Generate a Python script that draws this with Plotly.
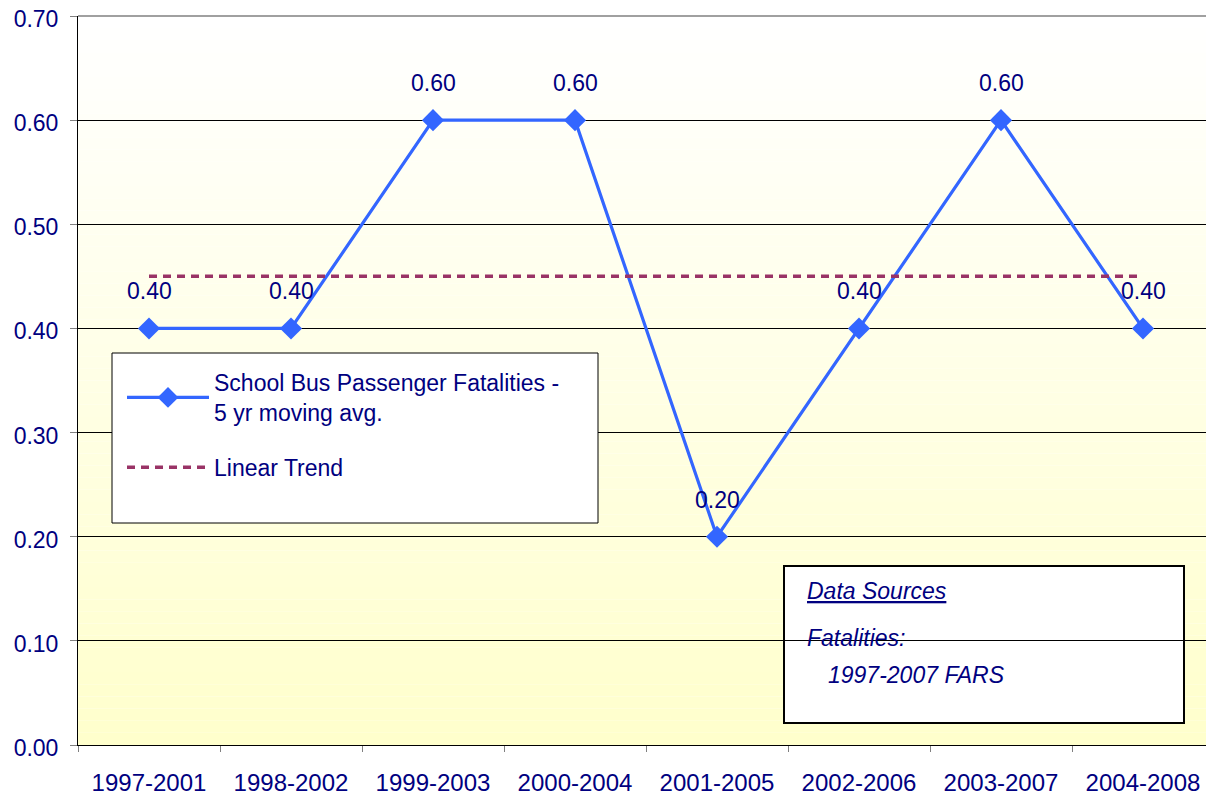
import numpy as np
import plotly.graph_objects as go

# data
periods = ["1997-2001", "1998-2002", "1999-2003", "2000-2004",
           "2001-2005", "2002-2006", "2003-2007", "2004-2008"]
fatalities = [0.40, 0.40, 0.60, 0.60, 0.20, 0.40, 0.60, 0.40]
y_ticks = [0.0, 0.1, 0.2, 0.3, 0.4, 0.5, 0.6, 0.7]

NAVY = "#000080"
FONT = "Liberation Sans, Arial, sans-serif"
FS = 23

# linear trend of the moving average
idx = np.arange(len(fatalities))
slope, icpt = np.polyfit(idx, fatalities, 1)
trend = slope * idx + icpt

fig = go.Figure()

fig.add_trace(go.Scatter(
    x=periods, y=fatalities, mode="lines+markers",
    name="School Bus Passenger Fatalities -<br>5 yr moving avg.",
    legendgroup="a",
    line=dict(color="#3366FF", width=3.2),
    marker=dict(symbol="diamond", size=17, color="#3366FF"),
))
fig.add_trace(go.Scatter(
    x=periods, y=trend, mode="lines", name="Linear Trend",
    legendgroup="b",
    line=dict(color="#993366", width=3.5, dash="8px,6px"),
))

# data labels
for p, v in zip(periods, fatalities):
    fig.add_annotation(x=p, y=v, text=f"{v:.2f}", showarrow=False,
                       yshift=37, font=dict(size=FS, color=NAVY, family=FONT))

# page is offset 8px by the body margin; plot area in page px: x 78..1214, y 16..745
PX0, PW, PY1, PH = 78, 1136, 745, 729


def px(x):
    return (x - PX0) / PW


def py(y):
    return (PY1 - y) / PH


# gradient background (white top -> pale yellow bottom)
shapes = []
n = 60
for i in range(n):
    t = i / (n - 1)
    b = int(round(255 - (255 - 204) * t))
    shapes.append(dict(type="rect", xref="x domain", yref="y domain",
                       x0=0, x1=1, y0=1 - (i + 1) / n, y1=1 - i / n,
                       fillcolor=f"rgb(255,255,{b})", line=dict(width=0),
                       layer="below"))

# top border of plot area
shapes.append(dict(type="line", xref="x domain", yref="y domain",
                   x0=0, x1=1, y0=1, y1=1,
                   line=dict(color="#808080", width=1.5), layer="below"))

# data sources box (below gridlines)
shapes.append(dict(type="rect", xref="paper", yref="paper",
                   x0=px(784), x1=px(1184), y0=py(723), y1=py(566),
                   fillcolor="white", line=dict(color="black", width=2),
                   layer="below"))
# legend box
shapes.append(dict(type="rect", xref="paper", yref="paper",
                   x0=px(112), x1=px(598), y0=py(523), y1=py(353),
                   fillcolor="white", line=dict(color="black", width=1),
                   layer="above"))
fig.update_layout(shapes=shapes)

src_font = dict(size=FS, color=NAVY, family=FONT)
fig.add_annotation(xref="paper", yref="paper", x=px(805), y=py(591),
                   xanchor="left", yanchor="middle", showarrow=False,
                   text="<i><u>Data Sources</u></i>", font=src_font)
fig.add_annotation(xref="paper", yref="paper", x=px(805), y=py(638),
                   xanchor="left", yanchor="middle", showarrow=False,
                   text="<i>Fatalities:</i>", font=src_font)
fig.add_annotation(xref="paper", yref="paper", x=px(826), y=py(675),
                   xanchor="left", yanchor="middle", showarrow=False,
                   text="<i>1997-2007 FARS</i>", font=src_font)

fig.update_layout(
    width=1206, height=789,
    margin=dict(l=70, r=0, t=8, b=52, autoexpand=False),
    paper_bgcolor="white", plot_bgcolor="white",
    font=dict(family=FONT, size=FS, color=NAVY),
    showlegend=True,
    legend=dict(x=px(122), y=py(361),
                xanchor="left", yanchor="top",
                bgcolor="rgba(0,0,0,0)", borderwidth=0,
                font=dict(size=FS, color=NAVY, family=FONT),
                itemwidth=82, tracegroupgap=22),
    xaxis=dict(
        type="category", range=[-0.5, 7.5], tickson="boundaries",
        showgrid=False, showline=True, linecolor="black", linewidth=1,
        ticks="outside", ticklen=6, tickcolor="gray", automargin=False,
        ticklabelstandoff=16,
        tickfont=dict(size=24, color=NAVY, family=FONT),
    ),
    yaxis=dict(
        range=[0, 0.7], tickvals=y_ticks, tickformat=".2f",
        showgrid=True, gridcolor="black", gridwidth=1,
        showline=True, linecolor="black", linewidth=1,
        ticks="outside", ticklen=7, tickcolor="gray", automargin=False,
        ticklabelstandoff=7, ticklabeloverflow="allow", ticklabelshift=3,
        tickfont=dict(size=FS, color=NAVY, family=FONT),
        zeroline=False,
    ),
)

fig.write_html("out.html")
